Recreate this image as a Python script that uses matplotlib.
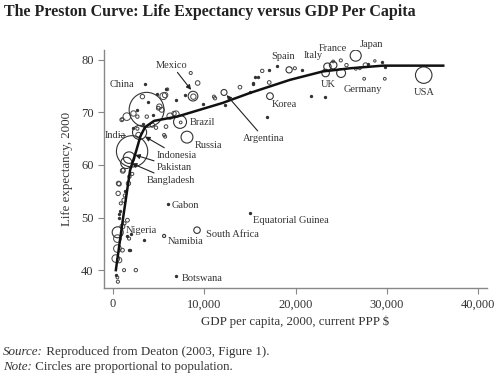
import numpy as np
import matplotlib
matplotlib.use("Agg")
import matplotlib.pyplot as plt

plt.rcParams['font.family'] = ['Liberation Serif', 'DejaVu Serif']

# named countries: GDP per capita (PPP $), life expectancy, population (millions)
named = ['China', 'India', 'USA', 'Indonesia', 'Brazil', 'Russia', 'Pakistan',
         'Bangladesh', 'Japan', 'Nigeria', 'Mexico', 'Germany', 'UK', 'France',
         'Italy', 'Korea', 'South Africa', 'Spain', 'Argentina', 'Namibia']
named_gdp = [3670, 2080, 34060, 2900, 7340, 8100, 1750, 1450, 26600, 500, 8760,
             25000, 23300, 24130, 23500, 17200, 9200, 19300, 12160, 5590]
named_le = [70.5, 62.6, 77.1, 66.2, 68.2, 65.3, 61.4, 60.4, 80.8, 47.2, 73.1,
            77.5, 77.5, 79.0, 78.7, 73.1, 47.6, 78.1, 73.8, 46.5]
named_pop = [1262, 1016, 282, 206, 174, 146, 138, 131, 127, 125, 98,
             82, 59, 59, 57, 47, 44, 40, 37, 10]

# other countries drawn as circles
other_gdp = [16350, 17120, 19930, 24970, 25590, 24130, 26620, 27050, 27670, 28700,
             27530, 29790, 8510, 9270, 11170, 11060, 13910, 5700, 5950, 5700,
             5800, 6900, 6240, 5330, 5070, 5510, 1500, 950, 2230, 2780,
             1060, 590, 1680, 1790, 1100, 2100, 660, 550, 1280, 1200,
             840, 1570, 1250, 1020, 470, 1750, 470, 1020, 290, 660,
             1200, 2490, 470, 520, 8800, 3210, 4960, 3690, 2660, 4300,
             4700, 7410, 5590, 2660, 6680, 1020]
other_le = [77.9, 75.7, 78.4, 79.9, 79.0, 79.7, 78.3, 78.4, 79.0, 79.8,
            76.4, 76.4, 77.5, 75.6, 72.7, 73.0, 74.8, 73.3, 74.4, 65.4,
            67.3, 69.7, 69.3, 70.5, 71.1, 73.1, 69.2, 68.6, 69.8, 65.7,
            58.9, 56.5, 56.5, 57.8, 59.0, 58.3, 56.4, 54.6, 54.2, 53.3,
            52.7, 49.5, 48.9, 48.3, 46.0, 46.0, 44.1, 43.8, 42.2, 41.9,
            40.0, 40.0, 38.6, 37.8, 73.0, 73.0, 70.8, 69.2, 69.2, 67.6,
            67.1, 68.1, 65.7, 66.9, 69.8, 68.7]
other_pop = [12, 14, 10, 10, 12, 8, 8, 8, 22, 6,
             8, 8, 10, 22, 12, 10, 14, 30, 8, 10,
             14, 40, 40, 25, 30, 50, 60, 15, 30, 30,
             25, 20, 20, 12, 15, 10, 20, 20, 10, 20,
             10, 15, 10, 25, 60, 10, 60, 15, 60, 30,
             10, 12, 8, 10, 30, 20, 15, 12, 12, 20,
             12, 8, 10, 10, 20, 10]

# small countries drawn as dots
dot_gdp = [15550, 17090, 15370, 16900, 18000, 20660, 21650, 23220, 29540, 29790,
           7890, 6900, 5800, 9820, 12270, 15000, 15370, 15850, 3500, 6000,
           15000, 6900, 3430, 1860, 700, 650, 600, 1950, 1500, 1750,
           300, 2600, 3800, 4400, 3300, 2200, 1300, 2450, 4800, 27900]
dot_le = [76.7, 78.1, 75.6, 69.2, 78.9, 78.0, 73.1, 72.9, 79.5, 78.7,
          73.3, 72.4, 74.4, 71.6, 71.4, 73.8, 75.4, 76.7, 75.4, 52.6,
          50.9, 38.9, 45.7, 43.8, 51.3, 50.6, 49.9, 46.9, 46.5, 43.8,
          39.0, 70.5, 72.0, 69.5, 67.8, 67.0, 55.0, 60.0, 73.6, 79.3]

# fitted Preston curve
curve_gdp = [300, 1100, 1860, 2500, 3000, 3500, 4500, 7000, 12000, 15000,
             19400, 23000, 26000, 29600, 36200]
curve_le = [40.0, 50.0, 59.0, 62.5, 65.5, 67.2, 68.4, 69.2, 71.8, 73.7,
            76.2, 77.8, 78.4, 78.9, 78.9]

fig = plt.figure(figsize=(5, 3.75), dpi=100)
ax = fig.add_axes([0.208, 0.232, 0.766, 0.635])

ax.scatter(other_gdp, other_le, s=np.array(other_pop) * 0.5, facecolors='none',
           edgecolors='#444444', linewidths=0.7, zorder=2)
ax.scatter(named_gdp, named_le, s=np.array(named_pop) * 0.5, facecolors='none',
           edgecolors='#333333', linewidths=0.8, zorder=2)
ax.scatter(dot_gdp, dot_le, s=2, color='#333333', zorder=2)
ax.plot(curve_gdp, curve_le, color='#111111', lw=1.8, zorder=3)

txt = dict(fontsize=7.5, color='#333333', va='center', ha='left')
# plain labels
ax.text(990, 75.4, 'China', ha='center', va='center', fontsize=7.5, color='#333333')
ax.text(8430, 68.0, 'Brazil', **txt)
ax.text(8980, 63.7, 'Russia', **txt)
ax.text(17450, 71.6, 'Korea', **txt)
ax.text(17380, 80.6, 'Spain', **txt)
ax.text(20840, 80.8, 'Italy', **txt)
ax.text(22560, 82.2, 'France', clip_on=False, **txt)
ax.text(27050, 82.9, 'Japan', clip_on=False, **txt)
ax.text(22780, 75.4, 'UK', **txt)
ax.text(25230, 74.3, 'Germany', **txt)
ax.text(34060, 73.8, 'USA', ha='center', va='center', fontsize=7.5, color='#333333')
ax.text(6430, 52.2, 'Gabon', **txt)
ax.text(15300, 49.5, 'Equatorial Guinea', **txt)
ax.text(1420, 47.5, 'Nigeria', **txt)
ax.text(10150, 46.7, 'South Africa', **txt)
ax.text(5950, 45.4, 'Namibia', **txt)
ax.text(7520, 38.4, 'Botswana', **txt)
ax.text(-900, 65.7, 'India', **txt)
ax.plot([600, 1300], [65.7, 65.7], color='#333333', lw=0.6)

# labels with arrows
arrow = dict(arrowstyle='-|>', color='#222222', lw=0.8, mutation_scale=7,
             shrinkA=0, shrinkB=0)
ax.annotate('Mexico', xy=(8550, 74.3), xytext=(6430, 79.0), arrowprops=arrow,
            ha='center', va='center', fontsize=7.5, color='#333333')
ax.annotate('Argentina', xy=(12450, 73.3), xytext=(14270, 65.1), arrowprops=arrow,
            ha='left', va='center', fontsize=7.5, color='#333333')
ax.annotate('Indonesia', xy=(3500, 65.4), xytext=(4790, 61.9), arrowprops=arrow,
            ha='left', va='center', fontsize=7.5, color='#333333')
ax.annotate('Pakistan', xy=(2410, 61.9), xytext=(4790, 59.6), arrowprops=arrow,
            ha='left', va='center', fontsize=7.5, color='#333333')
ax.annotate('Bangladesh', xy=(2050, 60.3), xytext=(3690, 57.1), arrowprops=arrow,
            ha='left', va='center', fontsize=7.5, color='#333333')

ax.set_xlim(-1000, 41000)
ax.set_ylim(36.6, 81.9)
ax.set_xticks([0, 10000, 20000, 30000, 40000])
ax.set_xticklabels(['0', '10,000', '20,000', '30,000', '40,000'])
ax.set_yticks([40, 50, 60, 70, 80])
for s in ['top', 'right']:
    ax.spines[s].set_visible(False)
for s in ['left', 'bottom']:
    ax.spines[s].set_color('#888888')
    ax.spines[s].set_linewidth(1.0)
ax.tick_params(colors='#888888', labelcolor='#333333', labelsize=9, length=4)
ax.set_xlabel('GDP per capita, 2000, current PPP $', fontsize=9.3, color='#333333')
ax.set_ylabel('Life expectancy, 2000', fontsize=9.3, color='#333333', labelpad=6)

fig.text(0.008, 0.968, 'The Preston Curve: Life Expectancy versus GDP Per Capita',
         fontsize=11.5, fontweight='bold', color='#222222', va='center')

s1 = fig.text(0.006, 0.062, 'Source:', style='italic', fontsize=9.4, color='#333333',
              va='center')
ax.annotate(' Reproduced from Deaton (2003, Figure 1).', xy=(1, 0.5), xycoords=s1,
            va='center', fontsize=9.4, color='#333333', annotation_clip=False)
s2 = fig.text(0.006, 0.022, 'Note:', style='italic', fontsize=9.4, color='#333333',
              va='center')
ax.annotate(' Circles are proportional to population.', xy=(1, 0.5), xycoords=s2,
            va='center', fontsize=9.4, color='#333333', annotation_clip=False)

fig.savefig('out.png', dpi=100)
